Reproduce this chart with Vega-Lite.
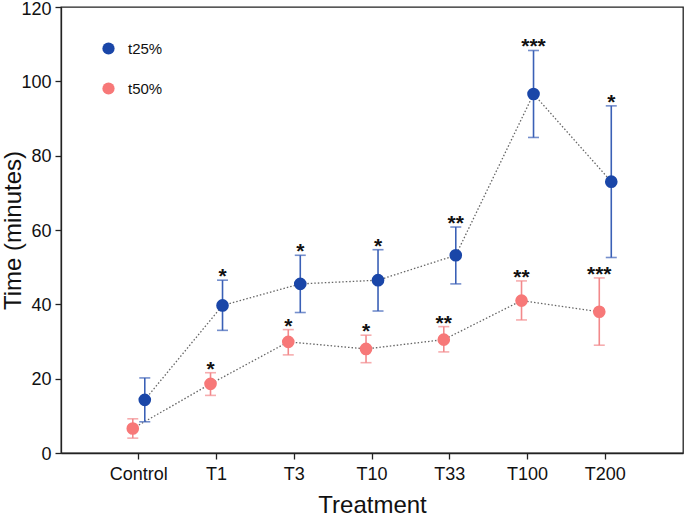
{
  "$schema": "https://vega.github.io/schema/vega-lite/v6.json",
  "width": 622,
  "height": 446,
  "autosize": {"type": "none"},
  "padding": {"left": 61, "top": 7, "right": 2, "bottom": 63},
  "background": "white",
  "config": {
    "font": "Liberation Sans",
    "view": {"stroke": "#222", "strokeWidth": 1.3},
    "axis": {
      "grid": false,
      "domainColor": "#222",
      "domainWidth": 1.3,
      "tickColor": "#222",
      "tickWidth": 1.3,
      "tickSize": 6,
      "labelColor": "#111",
      "labelFontSize": 18,
      "labelFont": "Liberation Sans",
      "titleFont": "Liberation Sans",
      "titleFontSize": 24,
      "titleFontWeight": "normal",
      "titleColor": "#111"
    }
  },
  "data": {
    "values": [
      {"treatment": "Control", "series": "t25%", "mean": 14.3, "lo": 8.4, "hi": 20.2, "sig": ""},
      {"treatment": "T1", "series": "t25%", "mean": 39.7, "lo": 33.0, "hi": 46.5, "sig": "*"},
      {"treatment": "T3", "series": "t25%", "mean": 45.5, "lo": 37.8, "hi": 53.2, "sig": "*"},
      {"treatment": "T10", "series": "t25%", "mean": 46.5, "lo": 38.2, "hi": 54.7, "sig": "*"},
      {"treatment": "T33", "series": "t25%", "mean": 53.2, "lo": 45.5, "hi": 60.8, "sig": "**"},
      {"treatment": "T100", "series": "t25%", "mean": 96.6, "lo": 84.9, "hi": 108.3, "sig": "***"},
      {"treatment": "T200", "series": "t25%", "mean": 73.0, "lo": 52.6, "hi": 93.4, "sig": "*"},
      {"treatment": "Control", "series": "t50%", "mean": 6.6, "lo": 4.0, "hi": 9.2, "sig": ""},
      {"treatment": "T1", "series": "t50%", "mean": 18.6, "lo": 15.5, "hi": 21.6, "sig": "*"},
      {"treatment": "T3", "series": "t50%", "mean": 29.9, "lo": 26.4, "hi": 33.2, "sig": "*"},
      {"treatment": "T10", "series": "t50%", "mean": 28.0, "lo": 24.3, "hi": 31.7, "sig": "*"},
      {"treatment": "T33", "series": "t50%", "mean": 30.5, "lo": 27.2, "hi": 34.0, "sig": "**"},
      {"treatment": "T100", "series": "t50%", "mean": 41.0, "lo": 35.8, "hi": 46.3, "sig": "**"},
      {"treatment": "T200", "series": "t50%", "mean": 38.0, "lo": 29.0, "hi": 47.1, "sig": "***"}
    ]
  },
  "encoding": {
    "x": {
      "field": "treatment",
      "type": "nominal",
      "sort": ["Control", "T1", "T3", "T10", "T33", "T100", "T200"],
      "scale": {"type": "band", "paddingInner": 0, "paddingOuter": 0.5},
      "axis": {"title": "Treatment", "labelAngle": 0, "labelPadding": 6, "titleY": 59, "titleBaseline": "alphabetic"}
    },
    "xOffset": {
      "field": "series",
      "type": "nominal",
      "scale": {"type": "band", "domain": ["t50%", "t25%"], "range": [26.9, 50.9], "paddingInner": 0, "paddingOuter": 0}
    }
  },
  "layer": [
    {
      "mark": {"type": "line", "color": "#666", "strokeWidth": 1.3, "strokeDash": [1.5, 2]},
      "encoding": {
        "y": {
          "field": "mean",
          "type": "quantitative",
          "scale": {"domain": [0, 120], "nice": false},
          "axis": {"title": "Time (minutes)", "values": [0, 20, 40, 60, 80, 100, 120], "labelPadding": 4, "labelOffset": {"condition": {"test": "datum.value === 120", "value": 2.5}, "value": 1}, "titleX": -41, "titleY": 223, "titleAngle": -90, "titleAlign": "center", "titleBaseline": "alphabetic"}
        },
        "detail": {"field": "series"}
      }
    },
    {
      "mark": {"type": "rule", "strokeWidth": 1.6},
      "encoding": {
        "y": {"field": "lo", "type": "quantitative"},
        "y2": {"field": "hi"},
        "color": {"condition": {"test": "datum.series === 't25%'", "value": "#3a60b6"}, "value": "#f2898b"}
      }
    },
    {
      "mark": {"type": "tick", "size": 11, "thickness": 1.6},
      "encoding": {
        "y": {"field": "lo", "type": "quantitative"},
        "color": {"condition": {"test": "datum.series === 't25%'", "value": "#3a60b6"}, "value": "#f2898b"}
      }
    },
    {
      "mark": {"type": "tick", "size": 11, "thickness": 1.6},
      "encoding": {
        "y": {"field": "hi", "type": "quantitative"},
        "color": {"condition": {"test": "datum.series === 't25%'", "value": "#3a60b6"}, "value": "#f2898b"}
      }
    },
    {
      "mark": {"type": "point", "filled": true, "opacity": 1, "size": 160, "shape": "circle"},
      "encoding": {
        "y": {"field": "mean", "type": "quantitative"},
        "color": {
          "field": "series",
          "type": "nominal",
          "scale": {"domain": ["t25%", "t50%"], "range": ["#1a46a8", "#f77878"]},
          "legend": {
            "title": null,
            "orient": "none",
            "legendX": 40,
            "legendY": 34,
            "padding": 0,
            "symbolType": "circle",
            "symbolSize": 150,
            "symbolStrokeWidth": 0,
            "labelFontSize": 15,
            "labelFont": "Liberation Sans",
            "labelColor": "#111",
            "labelOffset": 12,
            "rowPadding": 24
          }
        }
      }
    },
    {
      "mark": {"type": "text", "fontSize": 21, "fontWeight": "bold", "color": "#111", "baseline": "alphabetic", "dy": 3},
      "encoding": {
        "y": {"field": "hi", "type": "quantitative"},
        "text": {"field": "sig"}
      }
    }
  ]
}
